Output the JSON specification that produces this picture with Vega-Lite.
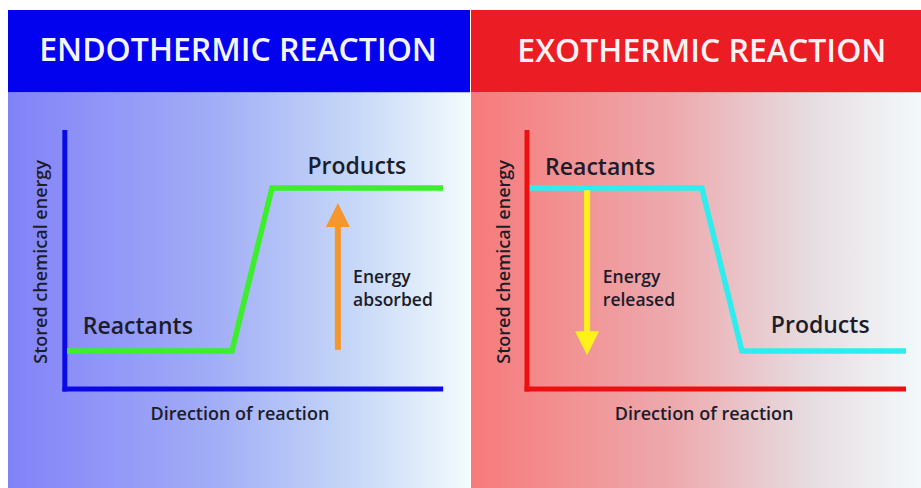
{
  "$schema": "https://vega.github.io/schema/vega-lite/v6.json",
  "padding": {"left": 8, "top": 10, "right": 0, "bottom": 0},
  "spacing": 1,
  "background": "white",
  "config": {"view": {"stroke": null}, "font": "Open Sans"},
  "hconcat": [
    {
      "width": 462,
      "height": 478,
      "layer": [
        {
          "data": {"values": [{"x": 0, "x2": 100, "y": 0, "y2": 82.8}]},
          "mark": {"type": "rect", "fill": {"gradient": "linear", "x1": 0, "y1": 0, "x2": 1, "y2": 0, "stops": [{"offset": 0, "color": "#8282F8"}, {"offset": 0.45, "color": "#A2AEF6"}, {"offset": 0.75, "color": "#C6D8F8"}, {"offset": 1, "color": "#F3FBFD"}]}},
          "encoding": {
            "x": {"field": "x", "type": "quantitative", "scale": {"domain": [0, 100], "nice": false, "zero": false}, "axis": null},
            "x2": {"field": "x2"},
            "y": {"field": "y", "type": "quantitative", "scale": {"domain": [0, 100], "nice": false, "zero": false}, "axis": null},
            "y2": {"field": "y2"}
          }
        },
        {
          "data": {"values": [{"x": 0, "x2": 100, "y": 82.8, "y2": 100}]},
          "mark": {"type": "rect", "fill": "#0202EE"},
          "encoding": {
            "x": {"field": "x", "type": "quantitative", "axis": null},
            "x2": {"field": "x2"},
            "y": {"field": "y", "type": "quantitative", "axis": null},
            "y2": {"field": "y2"}
          }
        },
        {
          "data": {"values": [{"x": 49.8, "y": 91.4, "label": "ENDOTHERMIC REACTION"}]},
          "mark": {"type": "text", "fontSize": 32, "fontWeight": 600, "color": "#F4F4FF", "align": "center", "baseline": "middle"},
          "encoding": {
            "x": {"field": "x", "type": "quantitative", "axis": null},
            "y": {"field": "y", "type": "quantitative", "axis": null},
            "text": {"field": "label"}
          }
        },
        {
          "data": {"values": [{"x": 12.3, "y": 74.9, "x2": 12.3, "y2": 20.19}, {"x": 11.8, "y": 20.7, "x2": 94.2, "y2": 20.7}]},
          "mark": {"type": "rule", "color": "#0A0AE6", "strokeWidth": 5, "strokeCap": "butt"},
          "encoding": {
            "x": {"field": "x", "type": "quantitative", "axis": null},
            "x2": {"field": "x2"},
            "y": {"field": "y", "type": "quantitative", "axis": null},
            "y2": {"field": "y2"}
          }
        },
        {
          "data": {"values": [{"step": 1, "x": 12.77, "y": 28.66}, {"step": 2, "x": 48.48, "y": 28.66}, {"step": 3, "x": 57.14, "y": 62.76}, {"step": 4, "x": 94.16, "y": 62.76}]},
          "mark": {"type": "line", "color": "#3CEE2C", "strokeWidth": 5.5, "strokeCap": "butt", "strokeJoin": "miter"},
          "encoding": {
            "x": {"field": "x", "type": "quantitative", "axis": null},
            "y": {"field": "y", "type": "quantitative", "axis": null},
            "order": {"field": "step", "type": "quantitative"}
          }
        },
        {
          "data": {"values": [{"x": 71.4, "y": 28.9, "y2": 55.2}]},
          "mark": {"type": "rule", "color": "#F5962F", "strokeWidth": 6, "strokeCap": "butt"},
          "encoding": {
            "x": {"field": "x", "type": "quantitative", "axis": null},
            "y": {"field": "y", "type": "quantitative", "axis": null},
            "y2": {"field": "y2"}
          }
        },
        {
          "data": {"values": [{"x": 71.4, "y": 57.1}]},
          "mark": {"type": "point", "shape": "M0,-1L1,1L-1,1Z", "size": 576, "filled": true, "color": "#F5962F", "opacity": 1},
          "encoding": {
            "x": {"field": "x", "type": "quantitative", "axis": null},
            "y": {"field": "y", "type": "quantitative", "axis": null}
          }
        },
        {
          "data": {"values": [{"x": 75.5, "y": 67.2, "label": "Products"}, {"x": 28.1, "y": 33.7, "label": "Reactants"}]},
          "mark": {"type": "text", "fontSize": 23, "fontWeight": 600, "color": "#1C1C2A", "align": "center", "baseline": "middle"},
          "encoding": {
            "x": {"field": "x", "type": "quantitative", "axis": null},
            "y": {"field": "y", "type": "quantitative", "axis": null},
            "text": {"field": "label"}
          }
        },
        {
          "data": {"values": [{"x": 74.7, "y": 43.83, "label": "Energy\nabsorbed"}]},
          "mark": {"type": "text", "fontSize": 17.5, "fontWeight": 600, "lineBreak": "\n", "lineHeight": 23, "color": "#1C1C2A", "align": "left", "baseline": "middle"},
          "encoding": {
            "x": {"field": "x", "type": "quantitative", "axis": null},
            "y": {"field": "y", "type": "quantitative", "axis": null},
            "text": {"field": "label"}
          }
        },
        {
          "data": {"values": [{"x": 50.2, "y": 15.3, "label": "Direction of reaction"}]},
          "mark": {"type": "text", "fontSize": 18, "fontWeight": 600, "color": "#1C1C2A", "align": "center", "baseline": "middle"},
          "encoding": {
            "x": {"field": "x", "type": "quantitative", "axis": null},
            "y": {"field": "y", "type": "quantitative", "axis": null},
            "text": {"field": "label"}
          }
        },
        {
          "data": {"values": [{"x": 7.36, "y": 47.3, "label": "Stored chemical energy"}]},
          "mark": {"type": "text", "fontSize": 18, "fontWeight": 600, "angle": 270, "color": "#1C1C2A", "align": "center", "baseline": "middle"},
          "encoding": {
            "x": {"field": "x", "type": "quantitative", "axis": null},
            "y": {"field": "y", "type": "quantitative", "axis": null},
            "text": {"field": "label"}
          }
        }
      ]
    },
    {
      "width": 450,
      "height": 478,
      "layer": [
        {
          "data": {"values": [{"x": 0, "x2": 100, "y": 0, "y2": 82.8}]},
          "mark": {"type": "rect", "fill": {"gradient": "linear", "x1": 0, "y1": 0, "x2": 1, "y2": 0, "stops": [{"offset": 0, "color": "#F77A7A"}, {"offset": 0.45, "color": "#EDAAAE"}, {"offset": 0.75, "color": "#E6DCE0"}, {"offset": 1, "color": "#F3F9FB"}]}},
          "encoding": {
            "x": {"field": "x", "type": "quantitative", "scale": {"domain": [0, 100], "nice": false, "zero": false}, "axis": null},
            "x2": {"field": "x2"},
            "y": {"field": "y", "type": "quantitative", "scale": {"domain": [0, 100], "nice": false, "zero": false}, "axis": null},
            "y2": {"field": "y2"}
          }
        },
        {
          "data": {"values": [{"x": 0, "x2": 100, "y": 82.8, "y2": 100}]},
          "mark": {"type": "rect", "fill": "#EC1C24"},
          "encoding": {
            "x": {"field": "x", "type": "quantitative", "axis": null},
            "x2": {"field": "x2"},
            "y": {"field": "y", "type": "quantitative", "axis": null},
            "y2": {"field": "y2"}
          }
        },
        {
          "data": {"values": [{"x": 51.3, "y": 91.2, "label": "EXOTHERMIC REACTION"}]},
          "mark": {"type": "text", "fontSize": 32, "fontWeight": 600, "color": "#FFF2F2", "align": "center", "baseline": "middle"},
          "encoding": {
            "x": {"field": "x", "type": "quantitative", "axis": null},
            "y": {"field": "y", "type": "quantitative", "axis": null},
            "text": {"field": "label"}
          }
        },
        {
          "data": {"values": [{"x": 12.44, "y": 74.9, "x2": 12.44, "y2": 20.19}, {"x": 11.89, "y": 20.7, "x2": 96.67, "y2": 20.7}]},
          "mark": {"type": "rule", "color": "#EE1010", "strokeWidth": 5, "strokeCap": "butt"},
          "encoding": {
            "x": {"field": "x", "type": "quantitative", "axis": null},
            "x2": {"field": "x2"},
            "y": {"field": "y", "type": "quantitative", "axis": null},
            "y2": {"field": "y2"}
          }
        },
        {
          "data": {"values": [{"step": 1, "x": 13.1, "y": 62.76}, {"step": 2, "x": 51.3, "y": 62.76}, {"step": 3, "x": 60.2, "y": 28.66}, {"step": 4, "x": 96.67, "y": 28.66}]},
          "mark": {"type": "line", "color": "#2EEDEF", "strokeWidth": 5.5, "strokeCap": "butt", "strokeJoin": "miter"},
          "encoding": {
            "x": {"field": "x", "type": "quantitative", "axis": null},
            "y": {"field": "y", "type": "quantitative", "axis": null},
            "order": {"field": "step", "type": "quantitative"}
          }
        },
        {
          "data": {"values": [{"x": 25.8, "y": 62.3, "y2": 32.2}]},
          "mark": {"type": "rule", "color": "#FFF21A", "strokeWidth": 6, "strokeCap": "butt"},
          "encoding": {
            "x": {"field": "x", "type": "quantitative", "axis": null},
            "y": {"field": "y", "type": "quantitative", "axis": null},
            "y2": {"field": "y2"}
          }
        },
        {
          "data": {"values": [{"x": 25.8, "y": 30.3}]},
          "mark": {"type": "point", "shape": "M-1,-1L1,-1L0,1Z", "size": 576, "filled": true, "color": "#FFF21A", "opacity": 1},
          "encoding": {
            "x": {"field": "x", "type": "quantitative", "axis": null},
            "y": {"field": "y", "type": "quantitative", "axis": null}
          }
        },
        {
          "data": {"values": [{"x": 28.7, "y": 66.9, "label": "Reactants"}, {"x": 77.6, "y": 33.9, "label": "Products"}]},
          "mark": {"type": "text", "fontSize": 23, "fontWeight": 600, "color": "#1C1C2A", "align": "center", "baseline": "middle"},
          "encoding": {
            "x": {"field": "x", "type": "quantitative", "axis": null},
            "y": {"field": "y", "type": "quantitative", "axis": null},
            "text": {"field": "label"}
          }
        },
        {
          "data": {"values": [{"x": 29.3, "y": 43.83, "label": "Energy\nreleased"}]},
          "mark": {"type": "text", "fontSize": 17.5, "fontWeight": 600, "lineBreak": "\n", "lineHeight": 23, "color": "#1C1C2A", "align": "left", "baseline": "middle"},
          "encoding": {
            "x": {"field": "x", "type": "quantitative", "axis": null},
            "y": {"field": "y", "type": "quantitative", "axis": null},
            "text": {"field": "label"}
          }
        },
        {
          "data": {"values": [{"x": 51.8, "y": 15.3, "label": "Direction of reaction"}]},
          "mark": {"type": "text", "fontSize": 18, "fontWeight": 600, "color": "#1C1C2A", "align": "center", "baseline": "middle"},
          "encoding": {
            "x": {"field": "x", "type": "quantitative", "axis": null},
            "y": {"field": "y", "type": "quantitative", "axis": null},
            "text": {"field": "label"}
          }
        },
        {
          "data": {"values": [{"x": 7.56, "y": 47.3, "label": "Stored chemical energy"}]},
          "mark": {"type": "text", "fontSize": 18, "fontWeight": 600, "angle": 270, "color": "#1C1C2A", "align": "center", "baseline": "middle"},
          "encoding": {
            "x": {"field": "x", "type": "quantitative", "axis": null},
            "y": {"field": "y", "type": "quantitative", "axis": null},
            "text": {"field": "label"}
          }
        }
      ]
    }
  ]
}
